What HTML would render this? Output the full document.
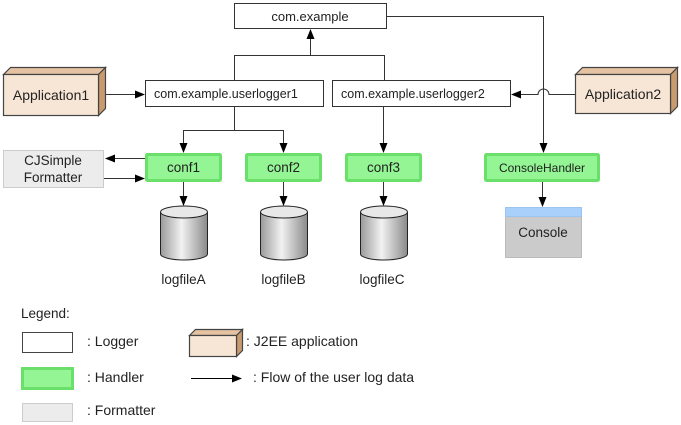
<!DOCTYPE html>
<html><head><style>body{margin:0;background:#fff}svg{display:block}text{font-family:"Liberation Sans",Arial,sans-serif;fill:#222}</style></head><body>
<svg width="681" height="425" viewBox="0 0 681 425" xmlns="http://www.w3.org/2000/svg">
<defs>
<marker id="a" markerWidth="10" markerHeight="8" refX="9" refY="4" orient="auto" markerUnits="userSpaceOnUse"><path d="M0,0 L10,4 L0,8 z" fill="#000"/></marker>
<linearGradient id="cyl" x1="0" x2="1"><stop offset="0" stop-color="#9a9a9a"/><stop offset="0.45" stop-color="#f2f2f2"/><stop offset="1" stop-color="#8a8a8a"/></linearGradient>
</defs>
<g stroke="#333" stroke-width="1" fill="none">
<rect x="234.5" y="3.5" width="152" height="25" fill="#fff"/>
<path d="M234.5,80 V55.5 H384.5 V80"/>
<path d="M310.5,55 V30" marker-end="url(#a)"/>
<rect x="145.5" y="80.5" width="178" height="26" fill="#fff"/>
<rect x="332.5" y="80.5" width="178" height="26" fill="#fff"/>
<path d="M386,16.5 H543.5 V152" marker-end="url(#a)"/>
<path d="M575,94.5 H549 A5.5,5.5 0 0 0 538,94.5 H512" marker-end="url(#a)"/>
<path d="M98,94.5 H144" marker-end="url(#a)"/>
<path d="M234.5,107 V130.5 H183.5 V152" marker-end="url(#a)"/>
<path d="M234.5,130.5 H283.5 V152" marker-end="url(#a)"/>
<path d="M383.5,107 V152" marker-end="url(#a)"/>
<path d="M183.5,182 V205" marker-end="url(#a)"/>
<path d="M283.5,182 V205" marker-end="url(#a)"/>
<path d="M383.5,182 V205" marker-end="url(#a)"/>
<path d="M542.5,182 V206" marker-end="url(#a)"/>
<path d="M145,158.5 H106" marker-end="url(#a)"/>
<path d="M104,178.5 H144" marker-end="url(#a)"/>
</g>
<g stroke="#444" stroke-width="1.2">
<path d="M3.5,74.5 L10.5,67.5 H105.5 L98.5,74.5 Z" fill="#e5c3a2"/>
<path d="M98.5,74.5 L105.5,67.5 V108.5 L98.5,115.5 Z" fill="#c89a6e"/>
<rect x="3.5" y="74.5" width="95" height="41" fill="#f7e6d6"/>
<path d="M575.5,74.5 L582.5,67.5 H677.5 L670.5,74.5 Z" fill="#e5c3a2"/>
<path d="M670.5,74.5 L677.5,67.5 V106.5 L670.5,113.5 Z" fill="#c89a6e"/>
<rect x="575.5" y="74.5" width="95" height="39" fill="#f7e6d6"/>
</g>
<g fill="#93f593" stroke="#6ae06a" stroke-width="3">
<rect x="146.5" y="154.5" width="74" height="26" rx="1"/>
<rect x="246.5" y="154.5" width="74" height="26" rx="1"/>
<rect x="346.5" y="154.5" width="74" height="26" rx="1"/>
<rect x="485.5" y="154.5" width="113" height="26" rx="1"/>
</g>
<rect x="3.5" y="150.5" width="100" height="37" fill="#ececec" stroke="#ccc"/>
<g stroke="#222" stroke-width="1">
<path d="M160.5,212 V254 A23.5,6 0 0 0 207.5,254 V212" fill="url(#cyl)"/><ellipse cx="184" cy="212" rx="23.5" ry="6" fill="#e8e8e8"/>
<path d="M260.5,212 V254 A23.5,6 0 0 0 307.5,254 V212" fill="url(#cyl)"/><ellipse cx="284" cy="212" rx="23.5" ry="6" fill="#e8e8e8"/>
<path d="M360.5,212 V254 A23.5,6 0 0 0 407.5,254 V212" fill="url(#cyl)"/><ellipse cx="384" cy="212" rx="23.5" ry="6" fill="#e8e8e8"/>
</g>
<rect x="505.5" y="207.5" width="76" height="50" fill="#cbcbcb" stroke="#bbb"/>
<rect x="505.5" y="207.5" width="76" height="9" fill="#a8d0fa" stroke="#9cc4ee"/>
<text x="310" y="21" font-size="13" text-anchor="middle">com.example</text>
<text x="154" y="98" font-size="12.5">com.example.userlogger1</text>
<text x="341" y="98" font-size="12.5">com.example.userlogger2</text>
<text x="51" y="100" font-size="14" text-anchor="middle">Application1</text>
<text x="623" y="99" font-size="14" text-anchor="middle">Application2</text>
<text x="53" y="165" font-size="13.5" text-anchor="middle">CJSimple</text>
<text x="53" y="182" font-size="13.5" text-anchor="middle">Formatter</text>
<text x="183.5" y="172" font-size="13.5" text-anchor="middle">conf1</text>
<text x="283.5" y="172" font-size="13.5" text-anchor="middle">conf2</text>
<text x="383.5" y="172" font-size="13.5" text-anchor="middle">conf3</text>
<text x="542" y="172" font-size="12" text-anchor="middle">ConsoleHandler</text>
<text x="543" y="237" font-size="13.5" text-anchor="middle">Console</text>
<text x="183.5" y="284" font-size="13.5" text-anchor="middle">logfileA</text>
<text x="283.5" y="284" font-size="13.5" text-anchor="middle">logfileB</text>
<text x="382" y="284" font-size="13.5" text-anchor="middle">logfileC</text>
<text x="21" y="318" font-size="13.5">Legend:</text>
<rect x="22.5" y="332.5" width="50" height="20" fill="#fff" stroke="#444"/>
<text x="87" y="346" font-size="14">: Logger</text>
<rect x="22.5" y="368.5" width="50" height="20" fill="#93f593" stroke="#6ae06a" stroke-width="3"/>
<text x="87" y="382" font-size="14">: Handler</text>
<rect x="22.5" y="403.5" width="50" height="18" fill="#ececec" stroke="#ccc"/>
<text x="87" y="415" font-size="14">: Formatter</text>
<g stroke="#444" stroke-width="1.2">
<path d="M189.5,335.5 L195.5,329.5 H242.5 L236.5,335.5 Z" fill="#e5c3a2"/>
<path d="M236.5,335.5 L242.5,329.5 V350.5 L236.5,356.5 Z" fill="#c89a6e"/>
<rect x="189.5" y="335.5" width="47" height="21" fill="#f7e6d6"/>
</g>
<text x="246" y="346" font-size="14">: J2EE application</text>
<path d="M191,378.5 H241" stroke="#000" marker-end="url(#a)"/>
<text x="253" y="382" font-size="14">: Flow of the user log data</text>
</svg>
</body></html>
